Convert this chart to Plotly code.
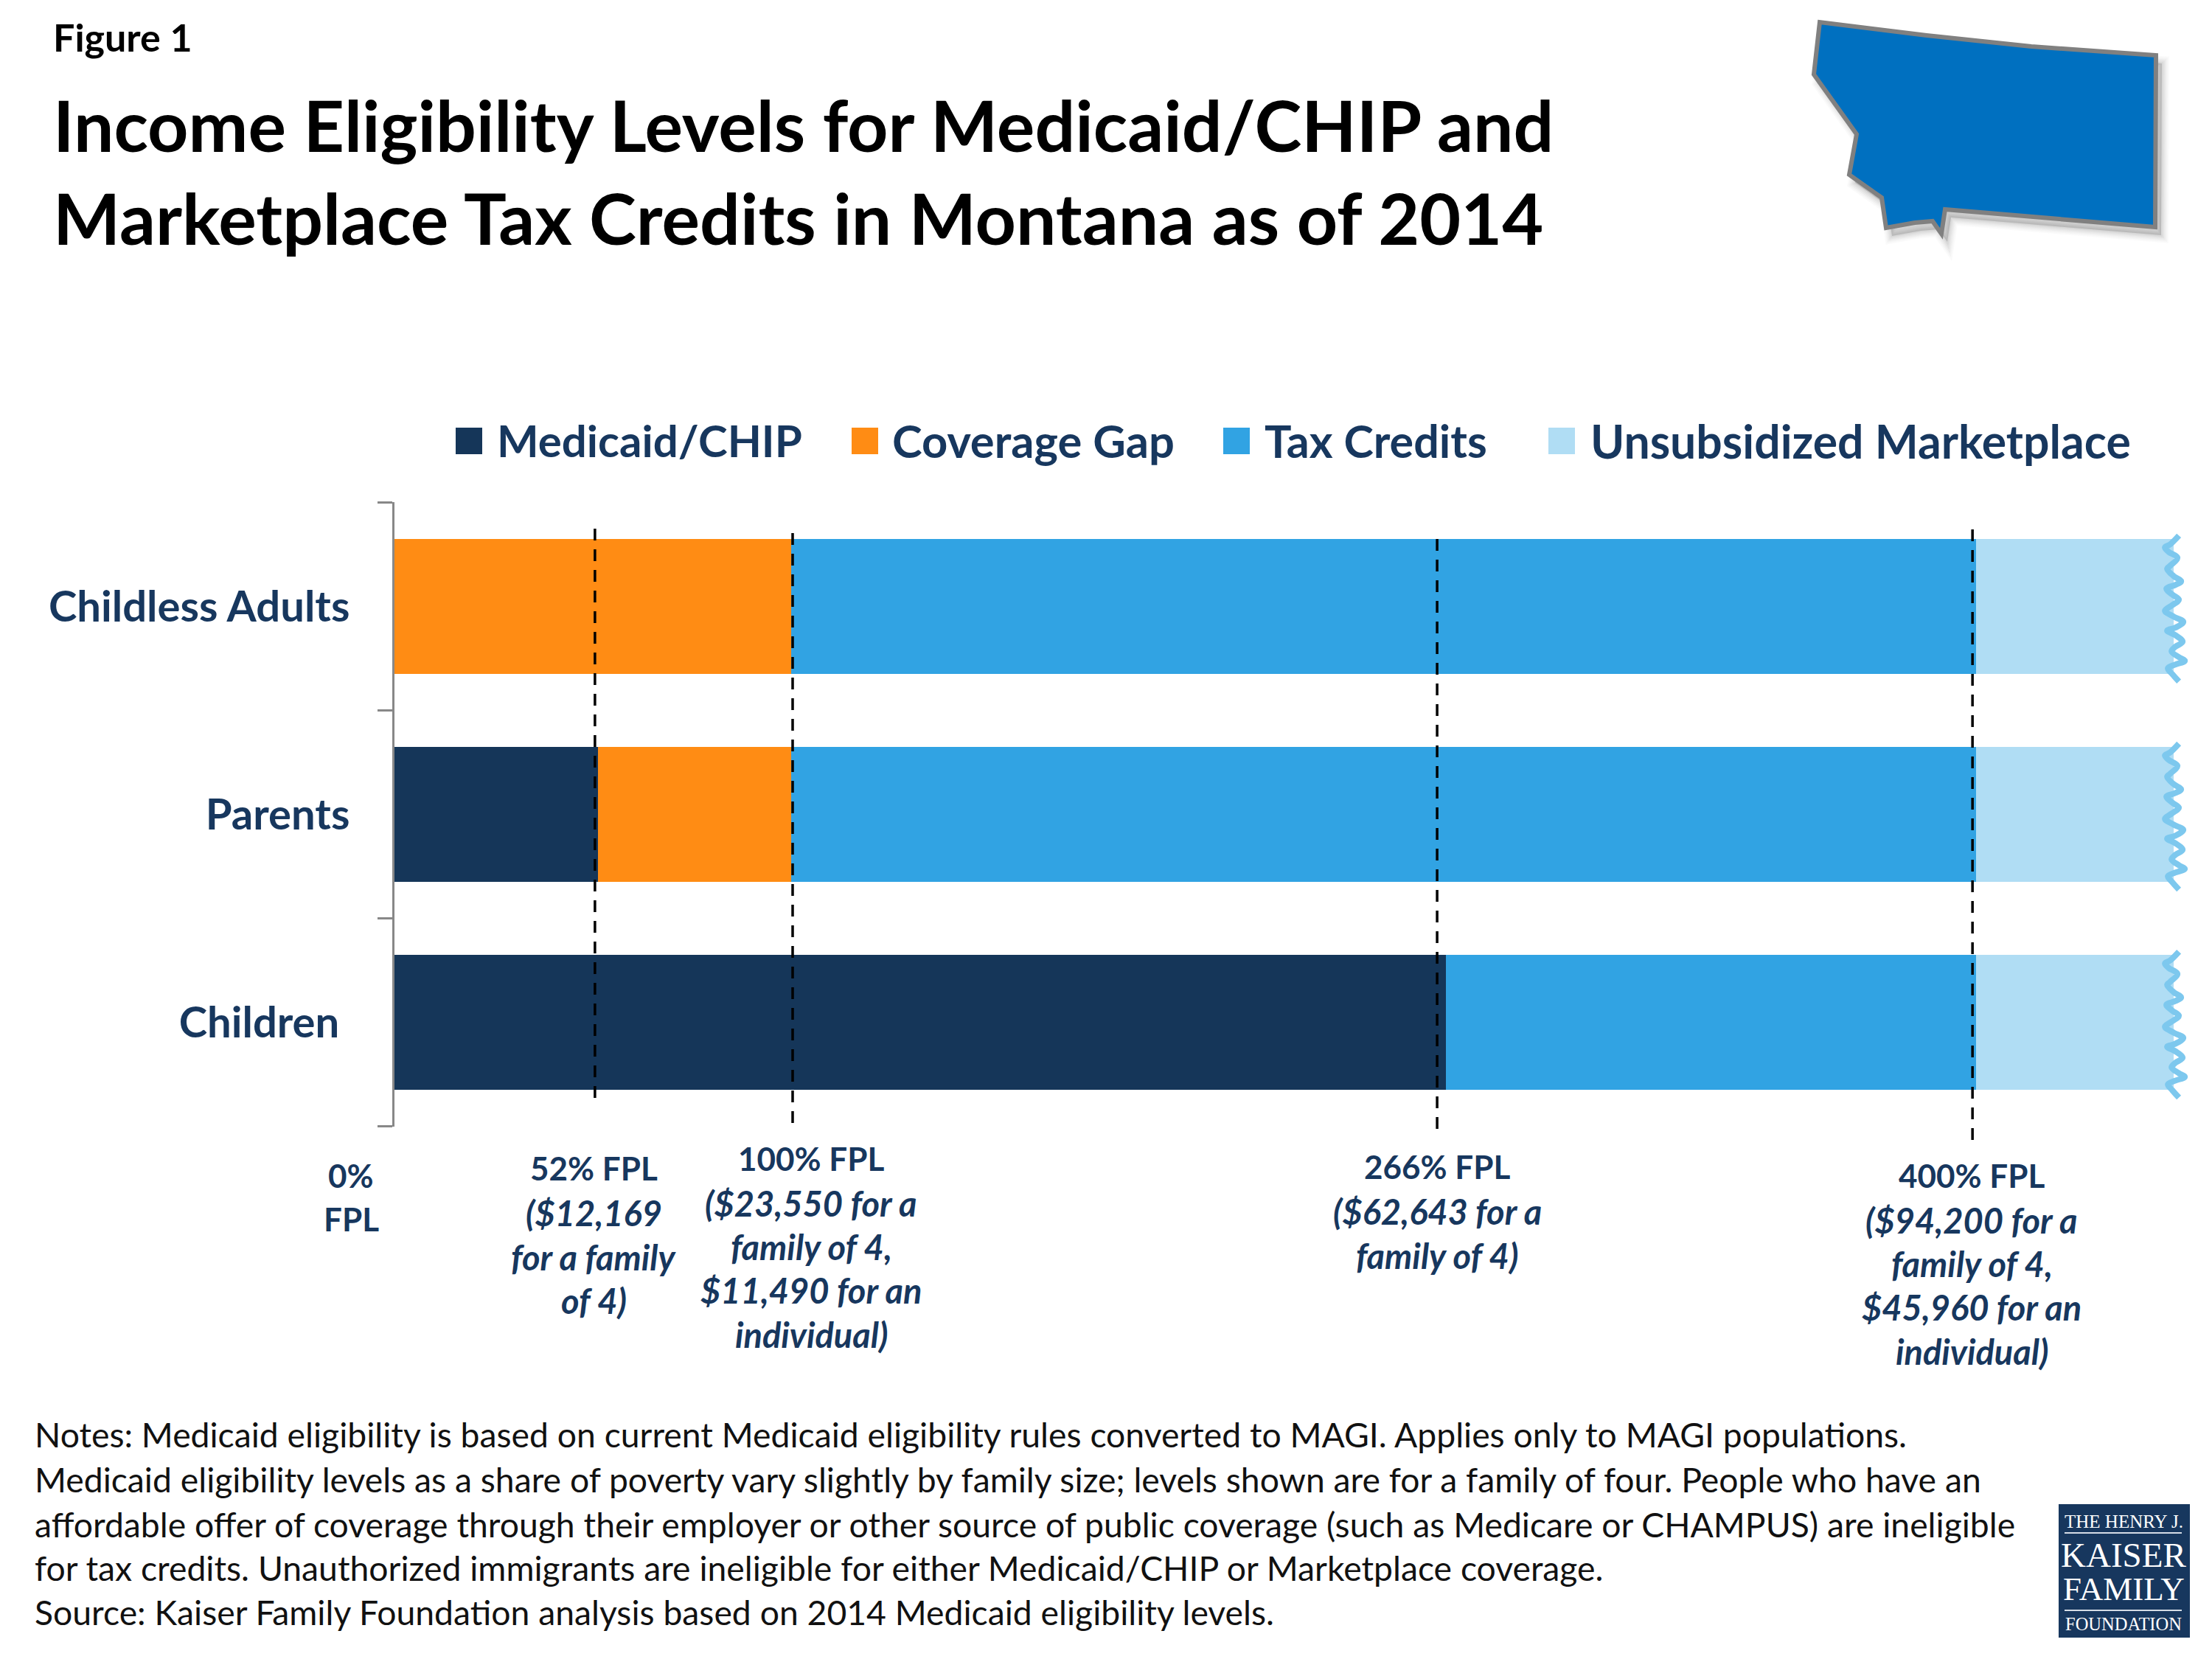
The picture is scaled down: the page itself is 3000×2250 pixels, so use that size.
import plotly.graph_objects as go

W = 3000
H = 2250

# the page body keeps its default 8px margin, so everything sits 8px right and down
BODY_MARGIN = 8

FONT = "Lato"
NAVY = "#17375E"

categories = ["Children\u00a0", "Parents", "Childless Adults"]
medicaid = [265.9, 51.4, 0]
coverage_gap = [0, 48.9, 100.3]
tax_credits = [134.1, 299.7, 299.7]
unsubsidized = [50, 50, 50]

series_names = ["Medicaid/CHIP", "Coverage Gap", "Tax Credits", "Unsubsidized Marketplace"]
series_colors = ["#153659", "#FF8C14", "#31A3E3", "#B0DDF4"]

# dashed FPL markers, they don't sit exactly on the bar edges in the original
dash_fpl = [50.7, 100.7, 263.7, 399.1]
dash_top = [717, 723, 731, 718]
dash_bottom = [1492, 1525, 1534, 1549]

# wiggle at the end of the bars, offsets in pixels around the bar centre
wiggle_dx = [7, -5, -12, -7, 5, -5, -9, 0, 10, 2, -10, -2, 7, -3, -12, 0, 13, 2, -9, 2, 12, 2, -3, 7, 15, 2, -8, -2, 7]
wiggle_dy = [-96, -84, -80, -74, -66, -55, -51, -41, -34, -29, -24, -16, -9, -1, 6, 14, 21, 29, 33, 39, 48, 55, 61, 69, 74, 79, 84, 92, 102]

fpl_labels = [
    (476, [(1594, "0%", False), (1653, "FPL", False)]),
    (805, [(1584, "52% FPL", False), (1645, "($12,169", True), (1705, "for a family", True), (1764, "of 4)", True)]),
    (1100, [(1571, "100% FPL", False), (1632, "($23,550 for a", True), (1691, "family of 4,", True),
            (1750, "$11,490 for an", True), (1810, "individual)", True)]),
    (1949, [(1582, "266% FPL", False), (1643, "($62,643 for a", True), (1703, "family of 4)", True)]),
    (2674, [(1594, "400% FPL", False), (1655, "($94,200 for a", True), (1714, "family of 4,", True),
            (1773, "$45,960 for an", True), (1833, "individual)", True)]),
]

title_lines = ["Income Eligibility Levels for Medicaid/CHIP and",
               "Marketplace Tax Credits in Montana as of 2014"]

note_lines = [
    "Notes: Medicaid eligibility is based on current Medicaid eligibility rules converted to MAGI. Applies only to MAGI populations.",
    "Medicaid eligibility levels as a share of poverty vary slightly by family size; levels shown are for a family of four. People who have an",
    "affordable offer of coverage through their employer or other source of public coverage (such as Medicare or CHAMPUS) are ineligible",
    "for tax credits. Unauthorized immigrants are ineligible for either Medicaid/CHIP or Marketplace coverage.",
    "Source: Kaiser Family Foundation analysis based on 2014 Medicaid eligibility levels.",
]
note_y = [1945, 2006, 2067, 2126, 2186]

legend_swatch_x = [618, 1155, 1659, 2100]
legend_text_x = [673, 1209, 1714, 2156]
legend_sizes = [60, 61.5, 61, 62.5]

montana = [(2468, 30), (2460, 101), (2518, 182), (2508, 237), (2552, 268), (2558, 309), (2597, 302),
           (2621, 300), (2633, 317), (2638, 284), (2923, 308), (2924, 75), (2755, 63), (2613, 48)]


def px(x):
    return (x - BODY_MARGIN) / W


def py(y):
    return 1 - (y - BODY_MARGIN) / H


def path_of(points, dx=0, dy=0):
    return "M" + " L".join(f"{px(x + dx)},{py(y + dy)}" for x, y in points) + " Z"


def text(fig, x, y, s, size, color=NAVY, anchor="left", family=FONT, bold=True, italic=False):
    if bold:
        s = f"<b>{s}</b>"
    if italic:
        s = f"<i>{s}</i>"
    fig.add_annotation(xref="paper", yref="paper", x=px(x), y=py(y), text=s, showarrow=False,
                       xanchor=anchor, yanchor="middle", borderpad=0,
                       font=dict(family=family, size=size, color=color))


fig = go.Figure()

all_series = [medicaid, coverage_gap, tax_credits, unsubsidized]
for name, values, color in zip(series_names, all_series, series_colors):
    fig.add_trace(go.Bar(y=categories, x=values, name=name, orientation="h",
                         marker=dict(color=color, line=dict(width=0)), showlegend=False))

# wiggles go on a hidden numeric axis lined up with the categories
for row in range(len(categories)):
    fig.add_trace(go.Scatter(
        x=[450 + d / 5.3625 for d in wiggle_dx],
        y=[row - d / 282.3 for d in wiggle_dy],
        yaxis="y2", mode="lines", showlegend=False, hoverinfo="skip",
        line=dict(color="#7DC8EE", width=8, shape="spline"),
    ))

# range is a hair wider than the categories, otherwise the end ticks can get dropped
fig.update_layout(
    width=W, height=H, autosize=False,
    margin=dict(l=0, r=0, t=0, b=0),
    paper_bgcolor="white", plot_bgcolor="white",
    barmode="stack", bargap=0.35,
    font=dict(family=FONT, color=NAVY),
    xaxis=dict(domain=[px(535), 1], range=[0, (W + BODY_MARGIN - 535) / 5.3625], visible=False, fixedrange=True),
    yaxis=dict(domain=[py(1528), py(681)], range=[-0.501, 2.501], type="category",
               categoryorder="array", categoryarray=categories,
               showline=True, linecolor="#888888", linewidth=3,
               ticks="outside", ticklen=20, tickwidth=3, tickcolor="#888888",
               tickson="boundaries", ticklabelstandoff=46, showgrid=False, zeroline=False,
               tickfont=dict(family=FONT, size=58, color=NAVY, weight="bold")),
    yaxis2=dict(domain=[py(1528), py(681)], range=[-0.501, 2.501], overlaying="y", visible=False),
)

for v, top, bottom in zip(dash_fpl, dash_top, dash_bottom):
    fig.add_shape(type="line", xref="x", yref="paper", x0=v, x1=v, y0=py(top), y1=py(bottom),
                  line=dict(color="black", width=3.5, dash="16px,12px"))

for (x, lines) in fpl_labels:
    for y, s, italic in lines:
        text(fig, x, y, s, 47 if italic else 44, anchor="center", italic=italic)

# legend
for name, color, sx, tx, size in zip(series_names, series_colors, legend_swatch_x, legend_text_x, legend_sizes):
    fig.add_shape(type="rect", xref="paper", yref="paper", x0=px(sx), x1=px(sx + 36),
                  y0=py(580), y1=py(616), fillcolor=color, line=dict(width=0))
    text(fig, tx, 597, name, size, anchor="left")

text(fig, 71, 50, "Figure 1", 52, color="black")
text(fig, 71, 169, title_lines[0], 96.6, color="black")
text(fig, 71, 295, title_lines[1], 96.6, color="black")

for y, s in zip(note_y, note_lines):
    text(fig, 46, y, s, 46.3, color="#111111", bold=False)

# Montana, shadow first then the state
for width, alpha in [(20, 0.03), (16, 0.04), (12, 0.05), (8, 0.06), (4, 0.07)]:
    fig.add_shape(type="path", xref="paper", yref="paper", path=path_of(montana, 8, 11),
                  fillcolor=f"rgba(90,90,90,{alpha})", line=dict(color=f"rgba(90,90,90,{alpha})", width=width))
fig.add_shape(type="path", xref="paper", yref="paper", path=path_of(montana),
              fillcolor="#0070C0", line=dict(color="#808080", width=6))

# KFF logo
fig.add_shape(type="rect", xref="paper", yref="paper", x0=px(2792), x1=px(2970), y0=py(2040), y1=py(2221),
              fillcolor="#17375E", line=dict(width=0))
for y in [2079, 2184]:
    fig.add_shape(type="line", xref="paper", yref="paper", x0=px(2800), x1=px(2959), y0=py(y), y1=py(y),
                  line=dict(color="#D5DCE6", width=2))
logo_font = "Liberation Serif"
text(fig, 2880, 2063, "THE HENRY J.", 25, color="white", anchor="center", family=logo_font, bold=False)
text(fig, 2880, 2109, "KAISER", 47, color="white", anchor="center", family=logo_font, bold=False)
text(fig, 2880, 2155, "FAMILY", 45, color="white", anchor="center", family=logo_font, bold=False)
text(fig, 2880, 2202, "FOUNDATION", 24.5, color="white", anchor="center", family=logo_font, bold=False)

fig.write_html("out.html")
